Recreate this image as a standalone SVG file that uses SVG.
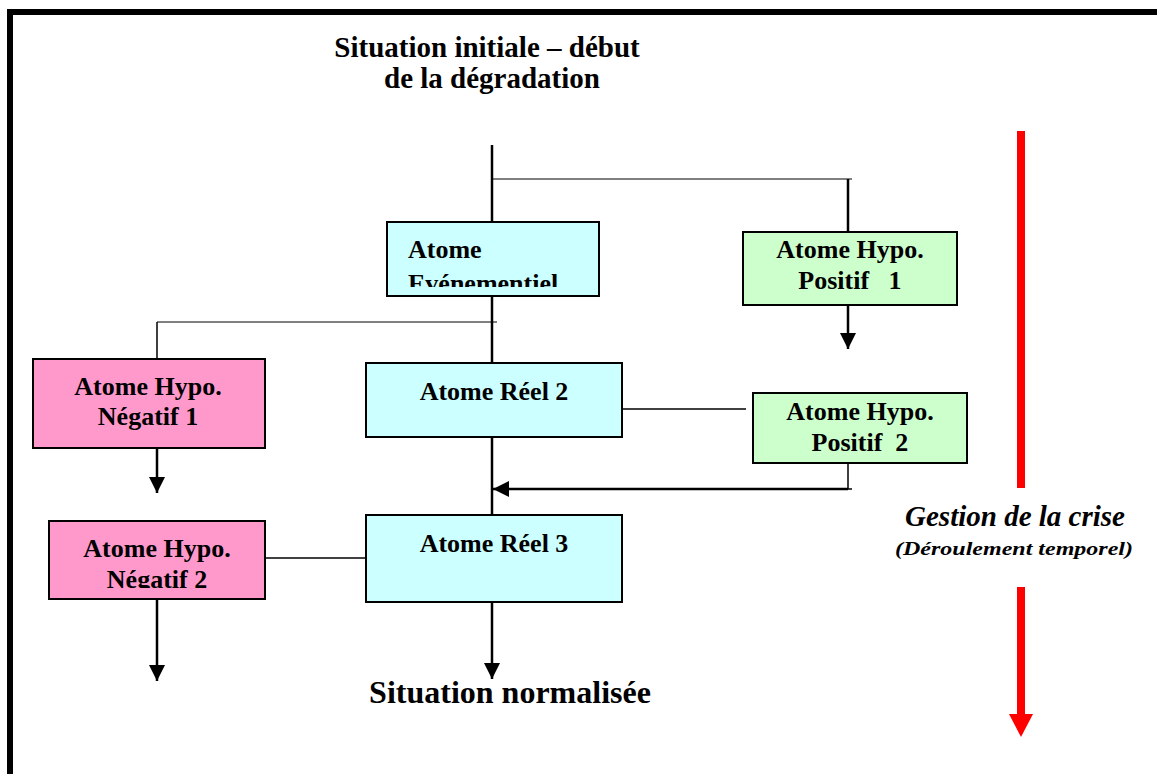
<svg xmlns="http://www.w3.org/2000/svg" width="1157" height="774" viewBox="0 0 1157 774">
<style>
.box{stroke:#000;stroke-width:2}
.cyan{fill:#ccffff}
.green{fill:#ccffcc}
.pink{fill:#ff99cc}
.t{font-family:"Liberation Serif",serif;font-weight:bold;font-size:26px;fill:#000}
.c{text-anchor:middle}
.ln{stroke:#000;fill:none}
</style>
<defs>
<marker id="ah" viewBox="0 0 10 10" refX="10" refY="5" markerWidth="16" markerHeight="16" markerUnits="userSpaceOnUse" orient="auto">
<path d="M0,0 L10,5 L0,10 z" fill="#000"/>
</marker>
<clipPath id="clipEv"><rect x="387" y="222" width="212" height="65"/></clipPath>
<clipPath id="clipN2"><rect x="49" y="521" width="216" height="67"/></clipPath>
</defs>
<rect width="1157" height="774" fill="#fff"/>
<path d="M10,774 V12 H1157" fill="none" stroke="#000" stroke-width="6"/>

<g id="title">
<text class="t c" x="487" y="57" style="font-size:29px">Situation initiale – début</text>
<text class="t c" x="492" y="88" style="font-size:29px">de la dégradation</text>
</g>

<g id="connectors">
<line class="ln" x1="492" y1="145" x2="492" y2="222" stroke-width="2.5"/>
<line class="ln" x1="492" y1="179" x2="852" y2="179" stroke-width="1"/>
<line class="ln" x1="848" y1="179" x2="848" y2="232" stroke-width="2.5"/>
<line class="ln" x1="848" y1="305" x2="848" y2="349" stroke-width="2.5" marker-end="url(#ah)"/>
<line class="ln" x1="492" y1="296" x2="492" y2="363" stroke-width="2.5"/>
<line class="ln" x1="157" y1="322" x2="497" y2="322" stroke-width="1"/>
<line class="ln" x1="157" y1="322" x2="157" y2="359" stroke-width="1.5"/>
<line class="ln" x1="157" y1="448" x2="157" y2="493" stroke-width="2.5" marker-end="url(#ah)"/>
<line class="ln" x1="622" y1="409" x2="746" y2="409" stroke-width="1.5"/>
<polyline class="ln" points="848,450 848,489 852,489" stroke-width="1.5"/>
<line class="ln" x1="848" y1="489" x2="493" y2="489" stroke-width="2.5" marker-end="url(#ah)"/>
<line class="ln" x1="492" y1="437" x2="492" y2="515" stroke-width="2.5"/>
<line class="ln" x1="261" y1="558" x2="368" y2="558" stroke-width="1.5"/>
<line class="ln" x1="157" y1="599" x2="157" y2="681" stroke-width="2.5" marker-end="url(#ah)"/>
<line class="ln" x1="492" y1="602" x2="492" y2="679" stroke-width="2.5" marker-end="url(#ah)"/>
</g>

<g id="n-evenementiel">
<rect class="box cyan" x="387" y="222" width="212" height="74"/>
<g clip-path="url(#clipEv)">
<text class="t" x="408" y="258">Atome</text>
<text class="t" x="408" y="292">Evénementiel</text>
</g>
</g>

<g id="n-positif1">
<rect class="box green" x="743" y="232" width="214" height="73"/>
<text class="t c" x="850" y="258">Atome Hypo.</text>
<text class="t c" x="850" y="289" xml:space="preserve">Positif   1</text>
</g>

<g id="n-negatif1">
<rect class="box pink" x="33" y="359" width="232" height="89"/>
<text class="t c" x="148" y="395">Atome Hypo.</text>
<text class="t c" x="148" y="425">Négatif 1</text>
</g>

<g id="n-reel2">
<rect class="box cyan" x="366" y="363" width="256" height="74"/>
<text class="t c" x="494" y="400">Atome Réel 2</text>
</g>

<g id="n-positif2">
<rect class="box green" x="753" y="393" width="214" height="70"/>
<text class="t c" x="860" y="420">Atome Hypo.</text>
<text class="t c" x="860" y="451" xml:space="preserve">Positif  2</text>
</g>

<g id="n-reel3">
<rect class="box cyan" x="366" y="515" width="256" height="87"/>
<text class="t c" x="494" y="552">Atome Réel 3</text>
</g>

<g id="n-negatif2">
<rect class="box pink" x="49" y="521" width="216" height="78"/>
<g clip-path="url(#clipN2)">
<text class="t c" x="157" y="557">Atome Hypo.</text>
<text class="t c" x="157" y="588">Négatif 2</text>
</g>
</g>

<g id="end">
<text class="t c" x="510" y="703" style="font-size:32px">Situation normalisée</text>
</g>

<g id="timeline">
<rect x="1017" y="131" width="8" height="357" fill="#ff0000"/>
<rect x="1017" y="587" width="8" height="128" fill="#ff0000"/>
<path d="M1009,714 L1033,714 L1021,737 z" fill="#ff0000"/>
<text class="t c" x="1015" y="526" style="font-style:italic;font-size:29px">Gestion de la crise</text>
<text class="t c" x="1014" y="555" style="font-style:italic;font-size:19px" textLength="238" lengthAdjust="spacingAndGlyphs">(Déroulement temporel)</text>
</g>
</svg>
